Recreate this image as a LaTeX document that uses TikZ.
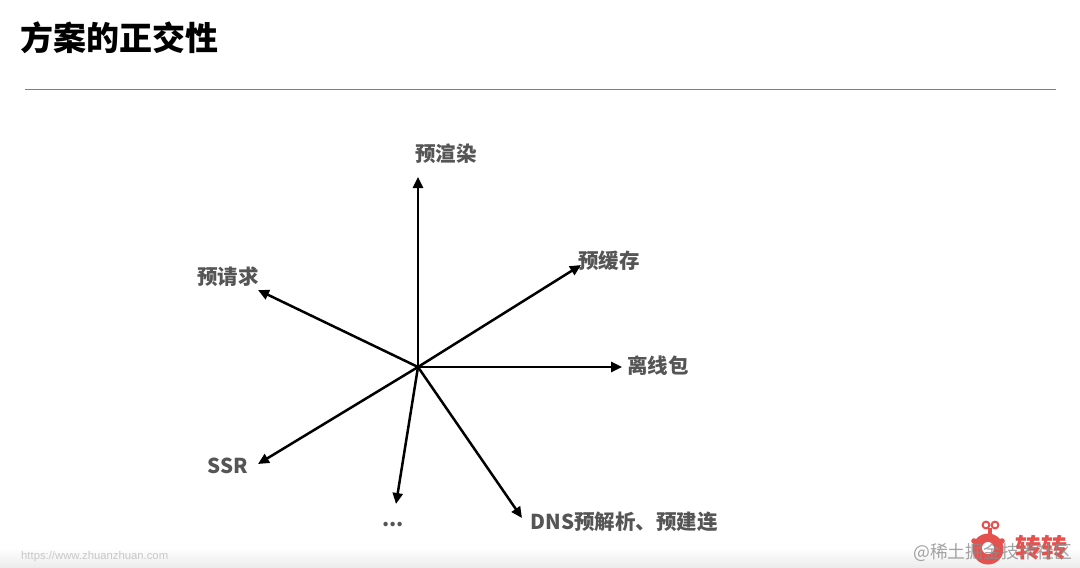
\documentclass[tikz,border=0pt]{standalone}
\usepackage{fontspec}
\setmainfont{Liberation Sans}
\newfontfamily\cjk{Noto Sans CJK SC}
\usetikzlibrary{arrows.meta}
\definecolor{lbl}{HTML}{555555}
\definecolor{brandred}{HTML}{E4514F}
\tikzset{x=1pt,y=-1pt,
 ray/.style={line width=2.5pt,-{Stealth[length=11pt,width=10pt,inset=0pt]}},
 lab/.style={font=\cjk\bfseries\fontsize{20.5}{20.5}\selectfont,text=lbl,inner sep=0pt,anchor=center},
 }
\begin{document}
\begin{tikzpicture}
\useasboundingbox (0,0) rectangle (1080,568);
\fill[white] (0,0) rectangle (1080,568);
\shade[top color=white,bottom color=black!8] (0,548) rectangle (1080,568);
\node[font=\cjk\bfseries\fontsize{33}{33}\selectfont,inner sep=0pt,anchor=west] (title) at (20,38) {方案的正交性};
\coordinate (ruleL) at (25,89);
\coordinate (ruleR) at (1056,89);
\draw[line width=1pt,black!50] (ruleL) -- (ruleR);
\coordinate (hub) at (418,367);
\node[lab] (a) at (446,153.5) {预渲染};
\node[lab] (b) at (609,260.5) {预缓存};
\node[lab] (c) at (658,365.5) {离线包};
\node[lab] (d) at (624,521.5) {DNS预解析、预建连};
\node[lab] (e) at (393,525) {...};
\node[lab] (f) at (227.5,465.5) {SSR};
\node[lab] (g) at (228,276.5) {预请求};
\coordinate (ta) at (418,177);
\coordinate (tb) at (581,265);
\coordinate (tc) at (622,367);
\coordinate (td) at (522,518);
\coordinate (te) at (396,504);
\coordinate (tf) at (258,464);
\coordinate (tg) at (258,290);
\foreach \t in {ta,tb,tc,td,te,tf,tg} \draw[ray] (hub) -- (\t);
% footer url
\node[font=\fontsize{11.3}{12}\selectfont,text=black!22,inner sep=0pt,anchor=west] (url) at (21,557) {https://www.zhuanzhuan.com};
% logo
\fill[brandred] (988,549) circle (15.5);
\fill[brandred] (974,541) circle (2.8);
\fill[brandred] (1002,541) circle (2.8);
\draw[brandred,line width=2pt] (986,525) circle (3.4);
\draw[brandred,line width=2pt] (995,525) circle (3.4);
\fill[brandred] (988,528) rectangle (992,536);
\fill[white] (988,548) circle (6);
\node[font=\cjk\bfseries\fontsize{26}{26}\selectfont,text=brandred,inner sep=0pt,anchor=west] (brand) at (1015,548) {转转};
% watermark
\node[font=\cjk\fontsize{17.8}{18}\selectfont,text=black!45,inner sep=0pt,anchor=west,opacity=.8] (wm) at (913,552) {@稀土掘金技术社区};
\end{tikzpicture}
\end{document}
